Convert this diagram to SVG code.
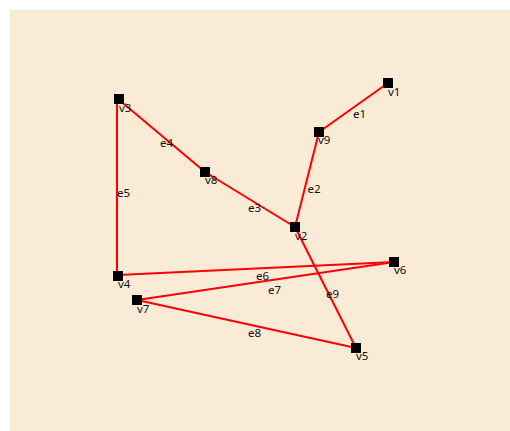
<svg xmlns="http://www.w3.org/2000/svg" width="510" height="431" viewBox="0 0 510 431">
<style>
.e{stroke:#ff0000;stroke-width:2;fill:none}
.n{fill:#000}
text{font-family:"Noto Sans","Open Sans",sans-serif;font-size:11.5px;fill:#111}
</style>
<rect x="10" y="10" width="500" height="421" fill="#FAEBD7"/>
<g id="connectors">
<line class="e" x1="319" y1="132" x2="388" y2="83"/>
<line class="e" x1="319" y1="132" x2="295" y2="227"/>
<line class="e" x1="205" y1="172" x2="295" y2="227"/>
<line class="e" x1="118" y1="99" x2="205" y2="172"/>
<line class="e" x1="117" y1="99" x2="117" y2="276"/>
<line class="e" x1="118" y1="275" x2="394" y2="262"/>
<line class="e" x1="137" y1="300" x2="394" y2="262"/>
<line class="e" x1="137" y1="300" x2="356" y2="348"/>
<line class="e" x1="295" y1="227" x2="356" y2="348"/>
<text x="353" y="118">e1</text>
<text x="307.5" y="192.5">e2</text>
<text x="248" y="212">e3</text>
<text x="160" y="147">e4</text>
<text x="117" y="197">e5</text>
<text x="256" y="280">e6</text>
<text x="268" y="294">e7</text>
<text x="248" y="337">e8</text>
<text x="326" y="298">e9</text>
</g>
<g id="v1"><rect class="n" x="383" y="78" width="10" height="10"/><text x="388" y="96">v1</text></g>
<g id="v2"><rect class="n" x="290" y="222" width="10" height="10"/><text x="295" y="240">v2</text></g>
<g id="v3"><rect class="n" x="114" y="94" width="10" height="10"/><text x="119" y="112">v3</text></g>
<g id="v4"><rect class="n" x="113" y="271" width="10" height="10"/><text x="118" y="288">v4</text></g>
<g id="v5"><rect class="n" x="351" y="343" width="10" height="10"/><text x="356" y="360">v5</text></g>
<g id="v6"><rect class="n" x="389" y="257" width="10" height="10"/><text x="394" y="274">v6</text></g>
<g id="v7"><rect class="n" x="132" y="295" width="10" height="10"/><text x="137" y="313">v7</text></g>
<g id="v8"><rect class="n" x="200" y="167" width="10" height="10"/><text x="205" y="184">v8</text></g>
<g id="v9"><rect class="n" x="314" y="127" width="10" height="10"/><text x="318" y="144">v9</text></g>
</svg>
